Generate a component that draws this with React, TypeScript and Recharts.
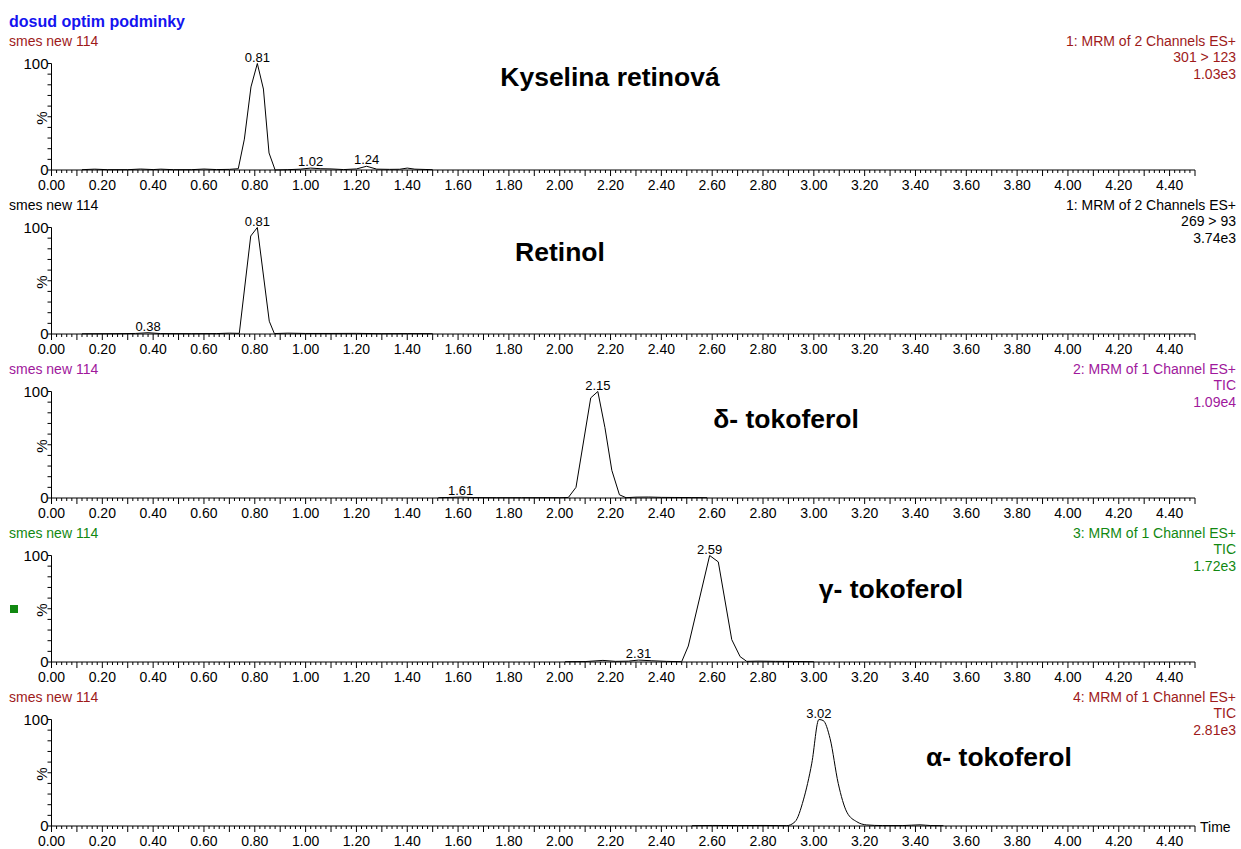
import React from "react";
import { LineChart, Line, XAxis, YAxis, ReferenceDot } from "recharts";

const FONT = '"Liberation Sans", Arial, Helvetica, sans-serif';

// retention time (min) and relative intensity (%)
const kyselinaT = [0.12, 0.17, 0.22, 0.3, 0.35, 0.4, 0.43, 0.48, 0.55, 0.6, 0.65, 0.7, 0.735, 0.759, 0.785, 0.81, 0.834, 0.856, 0.88, 0.93, 0.98, 1.02, 1.06, 1.1, 1.15, 1.2, 1.24, 1.28, 1.33, 1.37, 1.4, 1.43, 1.47, 1.5];
const kyselinaV = [0.3, 0.8, 0.3, 0.3, 0.9, 0.4, 0.8, 0.3, 0.3, 0.9, 0.4, 0.6, 1.2, 29, 78, 100, 76, 16, 0, 0.3, 0.8, 1.8, 1.2, 1.0, 0.4, 1.0, 3.5, 0.8, 0.6, 0.7, 1.8, 0.8, 0.5, 0.3];

const retinolT = [0.12, 0.25, 0.33, 0.38, 0.43, 0.55, 0.65, 0.7, 0.739, 0.784, 0.81, 0.857, 0.877, 0.93, 1.0, 1.1, 1.2, 1.3, 1.4, 1.5];
const retinolV = [0.2, 0.3, 0.5, 1.2, 0.4, 0.3, 0.4, 0.8, 0.6, 92, 100, 12, 0.4, 0.8, 0.5, 0.5, 0.6, 0.3, 0.4, 0.3];

const deltaT = [1.522, 1.58, 1.61, 1.66, 1.75, 1.85, 1.95, 2.0, 2.034, 2.064, 2.122, 2.15, 2.178, 2.205, 2.235, 2.261, 2.3, 2.35, 2.4, 2.45, 2.52, 2.58];
const deltaV = [0.3, 0.6, 0.9, 0.4, 0.3, 0.3, 0.3, 0.3, 0.5, 10, 94, 100, 66, 26, 3, 0.3, 0.8, 0.9, 0.6, 0.5, 0.4, 0.3];

const gammaT = [2.021, 2.1, 2.17, 2.22, 2.27, 2.31, 2.36, 2.42, 2.48, 2.506, 2.59, 2.624, 2.677, 2.71, 2.736, 2.78, 2.85, 2.92, 3.0];
const gammaV = [0.3, 0.4, 1.5, 0.6, 0.8, 1.8, 1.2, 0.6, 0.3, 15, 100, 94, 21, 5, 0.6, 0.8, 0.6, 0.5, 0.3];

const alphaT = [2.52, 2.6, 2.7, 2.8, 2.86, 2.893, 2.926, 2.959, 2.992, 3.02, 3.037, 3.064, 3.096, 3.13, 3.169, 3.208, 3.27, 3.35, 3.418, 3.46, 3.51];
const alphaV = [0.3, 0.5, 0.4, 0.5, 0.4, 0.3, 4, 24.5, 59, 100, 99, 82, 40, 13, 4, 1, 0.4, 0.4, 1.1, 0.4, 0.3];

// labelled peaks: [time, intensity]
const kyselinaPeaks = [[0.81, 100], [1.02, 1.8], [1.24, 3.5]];
const retinolPeaks = [[0.81, 100], [0.38, 1.2]];
const deltaPeaks = [[2.15, 100], [1.61, 0.9]];
const gammaPeaks = [[2.59, 100], [2.31, 1.8]];
const alphaPeaks = [[3.02, 100]];

const compoundNames = ["Kyselina retinová", "Retinol", "δ- tokoferol", "γ- tokoferol", "α- tokoferol"];
const headerLines = [
  ["1: MRM of 2 Channels ES+", "301 > 123", "1.03e3"],
  ["1: MRM of 2 Channels ES+", "269 > 93", "3.74e3"],
  ["2: MRM of 1 Channel ES+", "TIC", "1.09e4"],
  ["3: MRM of 1 Channel ES+", "TIC", "1.72e3"],
  ["4: MRM of 1 Channel ES+", "TIC", "2.81e3"],
];

const TIME_TICKS = Array.from({ length: 226 }, (_, i) => +(i * 0.02).toFixed(2));
const PCT_TICKS = [0, 10, 20, 30, 40, 50, 60, 70, 80, 90, 100];

const zip = (t: number[], v: number[]) => t.map((x, i) => ({ t: x, v: v[i] }));

const panels = [
  { data: zip(kyselinaT, kyselinaV), peaks: kyselinaPeaks, color: "#9e1a1a", name: { x: 610, y: 86 }, smooth: false },
  { data: zip(retinolT, retinolV), peaks: retinolPeaks, color: "#000000", name: { x: 560, y: 261 }, smooth: false },
  { data: zip(deltaT, deltaV), peaks: deltaPeaks, color: "#a0189c", name: { x: 786, y: 428 }, smooth: false },
  { data: zip(gammaT, gammaV), peaks: gammaPeaks, color: "#118811", name: { x: 891, y: 598 }, smooth: false },
  { data: zip(alphaT, alphaV), peaks: alphaPeaks, color: "#9e1a1a", name: { x: 999, y: 766 }, smooth: true },
];

const STEP = 164;

function TimeTick(props: any) {
  const { x, y, payload } = props;
  const k = Math.round(payload.value / 0.02);
  const len = k % 5 === 0 ? 6 : 3;
  return (
    <g>
      <line x1={x} y1={y} x2={x} y2={y + len} stroke="#000" />
      {k % 10 === 0 && (
        <text x={x} y={y + 20} textAnchor="middle" fontSize={14} fontFamily={FONT} fill="#000">
          {payload.value.toFixed(2)}
        </text>
      )}
    </g>
  );
}

function PctTick(props: any) {
  const { x, y, payload } = props;
  const v = payload.value;
  return (
    <g>
      <line x1={x} y1={y} x2={x - 4} y2={y} stroke="#000" />
      {(v === 0 || v === 100) && (
        <text x={x - 3} y={y + 5} textAnchor="end" fontSize={15} fontFamily={FONT} fill="#000">
          {v}
        </text>
      )}
    </g>
  );
}

export default function App() {
  return (
    <div style={{ position: "absolute", left: 0, top: 0, width: 1241, height: 849, background: "#fff", fontFamily: FONT }}>
      {panels.map((p, i) => (
        <div key={i} style={{ position: "absolute", left: 0, top: 30 + i * STEP }}>
          <LineChart width={1241} height={164} data={p.data} margin={{ top: 33.5, right: 46, bottom: 0, left: 0 }}>
            <XAxis
              type="number"
              dataKey="t"
              domain={[0, 4.5]}
              ticks={TIME_TICKS}
              interval={0}
              height={24}
              tickSize={0}
              tickMargin={0}
              tickLine={false}
              axisLine={{ stroke: "#000" }}
              tick={(tp: any) => <TimeTick {...tp} />}
              allowDataOverflow
            />
            <YAxis
              type="number"
              domain={[0, 100]}
              ticks={PCT_TICKS}
              interval={0}
              width={51.5}
              tickSize={0}
              tickMargin={0}
              tickLine={false}
              axisLine={{ stroke: "#000" }}
              tick={(tp: any) => <PctTick {...tp} />}
            />
            <Line
              type={p.smooth ? "monotone" : "linear"}
              dataKey="v"
              stroke="#000"
              strokeWidth={1}
              dot={false}
              isAnimationActive={false}
            />
            {p.peaks.map(([t, v]) => (
              <ReferenceDot
                key={t}
                x={t}
                y={v}
                r={0}
                fill="none"
                stroke="none"
                label={{ value: t.toFixed(2), position: "top", offset: 2, fontSize: 13, fill: "#000", fontFamily: FONT }}
              />
            ))}
          </LineChart>
        </div>
      ))}
      <svg width={1241} height={849} style={{ position: "absolute", left: 0, top: 0, pointerEvents: "none" }} fontFamily={FONT}>
        <text x={9} y={26.5} fontSize={16} fontWeight="bold" fill="#1414f0">dosud optim podminky</text>
        {panels.map((p, i) => {
          const off = i * STEP;
          return (
            <g key={i}>
              <text x={9} y={45.5 + off} fontSize={14} fill={p.color}>smes new 114</text>
              {headerLines[i].map((s, j) => (
                <text key={j} x={1236} y={45.5 + off + j * 16.5} fontSize={14} fill={p.color} textAnchor="end">{s}</text>
              ))}
              <text x={47} y={118 + off} fontSize={15} textAnchor="middle" transform={`rotate(-90 47 ${118 + off})`} fill="#000">%</text>
              <text x={p.name.x} y={p.name.y} fontSize={26.5} fontWeight="bold" textAnchor="middle" fill="#000">{compoundNames[i]}</text>
            </g>
          );
        })}
        <rect x={10} y={605} width={8} height={8} fill="#118811" />
        <text x={1200} y={832} fontSize={14} fill="#000">Time</text>
      </svg>
    </div>
  );
}
